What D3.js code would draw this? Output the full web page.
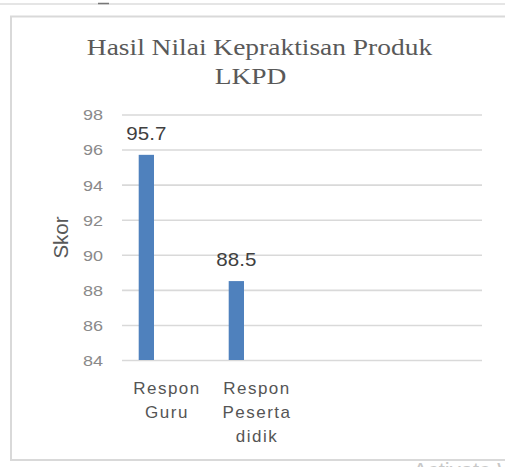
<!DOCTYPE html>
<html>
<head>
<meta charset="utf-8">
<script src="https://cdn.jsdelivr.net/npm/d3@7"></script>
<style>
  html, body { margin: 0; padding: 0; background: #fff; }
  svg { display: block; }
</style>
</head>
<body>
<div id="chart"></div>
<script>
// ---- data ----
const titleLines = ["Hasil Nilai Kepraktisan Produk", "LKPD"];
const categories = ["Respon Guru", "Respon Peserta didik"];
const values = [95.7, 88.5];
const yTicks = [84, 86, 88, 90, 92, 94, 96, 98];
const yLabel = "Skor";

// ---- layout ----
const W = 505, H = 467;
const plot = { left: 122, right: 482, top: 114.5, bottom: 360 };
const catStep = 90;
const barW = 15.3;
const barOffset = -28.3; // bar left relative to category centre
const stretch = 1.2;

const svg = d3.select("#chart").append("svg").attr("width", W).attr("height", H);

// page chrome
svg.append("line").attr("x1", 0).attr("x2", W).attr("y1", 4).attr("y2", 4)
  .attr("stroke", "#dcdcdc").attr("stroke-width", 1.5);
svg.append("line").attr("x1", 98).attr("x2", 109).attr("y1", 3.5).attr("y2", 3.5)
  .attr("stroke", "#777").attr("stroke-width", 1.5);

// chart frame (left, top, bottom)
svg.append("path")
  .attr("d", `M${W+2},16.5 H11 V460 H${W+2}`)
  .attr("fill", "#fff").attr("stroke", "#d9d9d9").attr("stroke-width", 2);

function widen(sel, k) {
  sel.each(function () {
    const len = this.getComputedTextLength();
    d3.select(this).attr("textLength", len * k).attr("lengthAdjust", "spacingAndGlyphs");
  });
}

// scales
const y = d3.scaleLinear().domain([84, 98]).range([plot.bottom, plot.top]);
const x = d3.scaleBand().domain(categories)
  .range([plot.left, plot.left + catStep * categories.length]);

// gridlines
const yAxis = d3.axisLeft(y).tickValues(yTicks).tickSize(-(plot.right - plot.left)).tickPadding(19)
  .tickFormat(d3.format("d"));
const gy = svg.append("g").attr("transform", `translate(${plot.left},0)`).call(yAxis);
gy.select(".domain").remove();
gy.selectAll(".tick line").attr("stroke", "#d9d9d9").attr("stroke-width", 1.6);
gy.selectAll(".tick text")
  .attr("font-family", "'Liberation Sans', Arial, sans-serif")
  .attr("font-size", 15).attr("fill", "#8a8a8a").attr("dy", "0.36em");
widen(gy.selectAll(".tick text"), stretch);

// bars
svg.append("g").selectAll("rect").data(categories).join("rect")
  .attr("x", c => x(c) + x.bandwidth() / 2 + barOffset)
  .attr("width", barW)
  .attr("y", (c, i) => y(values[i]))
  .attr("height", (c, i) => y(84) - y(values[i]))
  .attr("fill", "#4f81bd");

// value labels
const vl = svg.append("g").selectAll("text").data(categories).join("text")
  .attr("x", c => x(c) + x.bandwidth() / 2 + barOffset + barW / 2)
  .attr("y", (c, i) => y(values[i]) - 15)
  .attr("text-anchor", "middle")
  .attr("font-family", "'Liberation Sans', Arial, sans-serif")
  .attr("font-size", 19).attr("fill", "#404040")
  .text((c, i) => values[i].toFixed(1));
widen(vl, 1.08);

// category labels
const cl = svg.append("g").selectAll("text").data(categories).join("text")
  .attr("text-anchor", "middle")
  .attr("font-family", "'Liberation Sans', Arial, sans-serif")
  .attr("font-size", 17).attr("fill", "#555555")
  .attr("letter-spacing", 1.5);
cl.each(function (c) {
  const t = d3.select(this);
  c.split(" ").forEach((w, i) => {
    t.append("tspan").attr("x", x(c) + x.bandwidth() / 2).attr("y", 394 + i * 24).text(w);
  });
});

// y axis title
svg.append("text")
  .attr("transform", `translate(68,237.5) rotate(-90)`)
  .attr("text-anchor", "middle")
  .attr("font-family", "'Liberation Sans', Arial, sans-serif")
  .attr("font-size", 20.5).attr("fill", "#595959")
  .text(yLabel);

// title
const tl = svg.append("g").selectAll("text").data(titleLines).join("text")
  .attr("x", (d, i) => i === 0 ? 259.5 : 250.5)
  .attr("y", (d, i) => 54.5 + i * 29.5)
  .attr("text-anchor", "middle")
  .attr("font-family", "'Liberation Serif', 'Times New Roman', serif")
  .attr("font-size", 22.5).attr("fill", "#595959")
  .text(d => d);
widen(tl, 1.22);

// watermark remnant
svg.append("text").attr("x", 413).attr("y", 478)
  .attr("font-family", "'Liberation Sans', Arial, sans-serif")
  .attr("font-size", 22).attr("fill", "#c8c8c8")
  .text("Activate Windows");
</script>
</body>
</html>
